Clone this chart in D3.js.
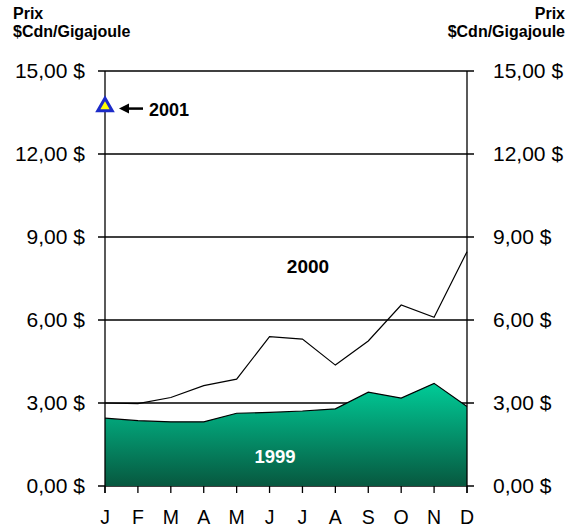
<!DOCTYPE html>
<html lang="fr">
<head>
<meta charset="UTF-8">
<script src="https://cdn.jsdelivr.net/npm/d3@7"></script>
<style>
  html,body{margin:0;padding:0;background:#fff;}
  svg{display:block;font-family:"Liberation Sans",Arial,sans-serif;}
</style>
</head>
<body>
<svg id="chart" width="577" height="529"></svg>
<script>
// donnees
var mois = ["J","F","M","A","M","J","J","A","S","O","N","D"];
var prix1999 = [2.45, 2.36, 2.32, 2.32, 2.63, 2.66, 2.71, 2.79, 3.39, 3.18, 3.71, 2.87];
var prix2000 = [3.00, 2.98, 3.20, 3.63, 3.86, 5.40, 5.31, 4.37, 5.24, 6.54, 6.10, 8.47];
var prix2001 = [13.75];   // janvier seulement
var yTicks = [0, 3, 6, 9, 12, 15];

var svg = d3.select("#chart");
var gauche = 105, droite = 467, haut = 71, bas = 486;

var x = d3.scalePoint().domain(d3.range(12)).range([gauche, droite]);
var y = d3.scaleLinear().domain([0, 15]).range([bas, haut]);

var fmt = function(d){ return d.toFixed(2).replace(".", ",") + " $"; };

// degrade vert de l'aire 1999
var grad = svg.append("defs").append("linearGradient")
    .attr("id", "vert").attr("x1", 0).attr("y1", 0).attr("x2", 0).attr("y2", 1);
grad.append("stop").attr("offset", "0%").attr("stop-color", "#00cc98");
grad.append("stop").attr("offset", "100%").attr("stop-color", "#07583f");

// quadrillage
svg.append("g").selectAll("line").data(yTicks).enter().append("line")
    .attr("x1", gauche - 7).attr("x2", droite + 7)
    .attr("y1", function(d){ return y(d); }).attr("y2", function(d){ return y(d); })
    .attr("stroke", "#000").attr("stroke-width", 1.3);

// aire 1999
var area = d3.area()
    .x(function(d, i){ return x(i); })
    .y0(y(0))
    .y1(function(d){ return y(d); });
svg.append("path").datum(prix1999)
    .attr("d", area)
    .attr("fill", "url(#vert)")
    .attr("stroke", "none");
svg.append("path").datum(prix1999)
    .attr("d", d3.line().x(function(d, i){ return x(i); }).y(function(d){ return y(d); }))
    .attr("fill", "none").attr("stroke", "#000").attr("stroke-width", 1.2);

// ligne 2000
svg.append("path").datum(prix2000)
    .attr("d", d3.line().x(function(d, i){ return x(i); }).y(function(d){ return y(d); }))
    .attr("fill", "none").attr("stroke", "#000").attr("stroke-width", 1.2);

// axes verticaux
svg.append("line").attr("x1", gauche).attr("x2", gauche).attr("y1", haut).attr("y2", bas + 7)
    .attr("stroke", "#000").attr("stroke-width", 1.3);
svg.append("line").attr("x1", droite).attr("x2", droite).attr("y1", haut).attr("y2", bas + 7)
    .attr("stroke", "#000").attr("stroke-width", 1.3);

// axe des mois
svg.append("g").selectAll("line").data(d3.range(12)).enter().append("line")
    .attr("x1", function(d){ return x(d); }).attr("x2", function(d){ return x(d); })
    .attr("y1", bas).attr("y2", bas + 7)
    .attr("stroke", "#000").attr("stroke-width", 1.3);
svg.append("g").selectAll("text").data(mois).enter().append("text")
    .attr("x", function(d, i){ return x(i); }).attr("y", 524)
    .attr("text-anchor", "middle").attr("font-size", 19.5).text(function(d){ return d; });

// etiquettes y gauche et droite
svg.append("g").selectAll("text").data(yTicks).enter().append("text")
    .attr("x", 85).attr("y", function(d){ return y(d) + 7; })
    .attr("text-anchor", "end").attr("font-size", 21).text(fmt);
svg.append("g").selectAll("text").data(yTicks).enter().append("text")
    .attr("x", 493).attr("y", function(d){ return y(d) + 7; })
    .attr("text-anchor", "start").attr("font-size", 21).text(fmt);

// titres des axes
[[13, "start"], [565, "end"]].forEach(function(p){
  svg.append("text").attr("x", p[0]).attr("y", 19).attr("text-anchor", p[1])
      .attr("font-size", 16).attr("font-weight", "bold").text("Prix");
  svg.append("text").attr("x", p[0]).attr("y", 37).attr("text-anchor", p[1])
      .attr("font-size", 16).attr("font-weight", "bold").text("$Cdn/Gigajoule");
});

// point 2001
var tri = d3.symbol().type(d3.symbolTriangle).size(90);
svg.append("path").datum(prix2001[0])
    .attr("d", tri)
    .attr("transform", function(d){ return "translate(" + x(0) + "," + (y(d) + 1) + ")"; })
    .attr("fill", "#ffff00").attr("stroke", "#1c2bc8").attr("stroke-width", 3)
    .attr("stroke-linejoin", "miter");

// fleche et etiquette 2001
var ya = y(prix2001[0]) + 3;
svg.append("line").attr("x1", 128).attr("x2", 143).attr("y1", ya).attr("y2", ya)
    .attr("stroke", "#000").attr("stroke-width", 2.5);
svg.append("path").attr("d", "M119," + ya + " L129," + (ya - 5) + " L129," + (ya + 5) + " Z")
    .attr("fill", "#000");
svg.append("text").attr("x", 149).attr("y", ya + 7).attr("font-size", 18)
    .attr("font-weight", "bold").text("2001");

// etiquettes des series
svg.append("text").attr("x", 308).attr("y", 273).attr("text-anchor", "middle")
    .attr("font-size", 19).attr("font-weight", "bold").text("2000");
svg.append("text").attr("x", 275).attr("y", 463).attr("text-anchor", "middle")
    .attr("font-size", 18.5).attr("font-weight", "bold").attr("fill", "#fff").text("1999");
</script>
</body>
</html>
